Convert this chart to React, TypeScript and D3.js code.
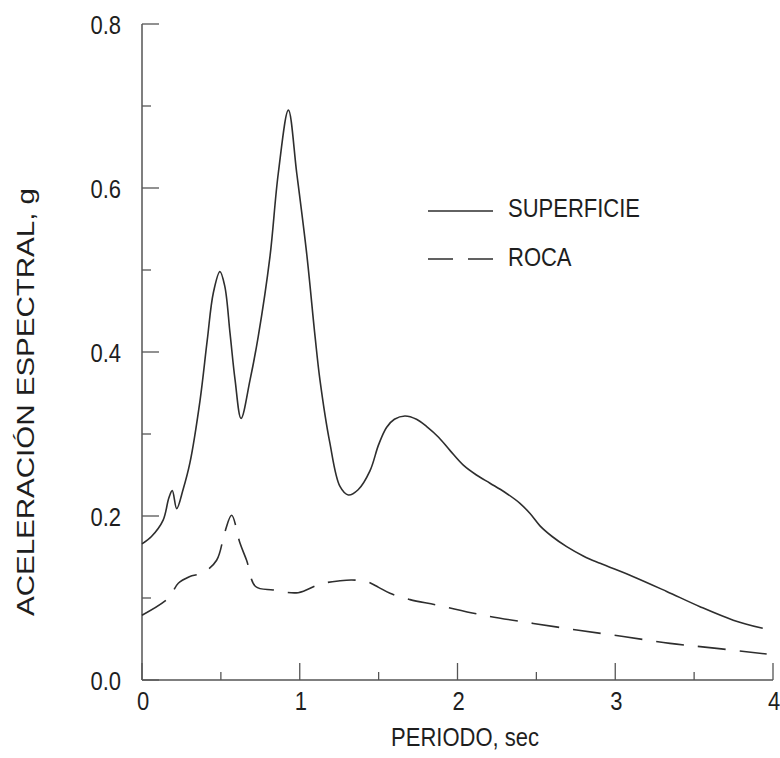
import React from "react";
import * as d3 from "d3";

const superficieT = [0, 0.06, 0.134, 0.17, 0.192, 0.22, 0.26, 0.304, 0.368, 0.414, 0.452, 0.494, 0.525, 0.558, 0.59, 0.628, 0.685, 0.737, 0.811, 0.864, 0.928, 0.981, 1.044, 1.097, 1.128, 1.19, 1.255, 1.308, 1.37, 1.445, 1.5, 1.55, 1.6, 1.667, 1.74, 1.805, 1.88, 1.952, 2.037, 2.12, 2.206, 2.3, 2.396, 2.46, 2.523, 2.6, 2.692, 2.8, 2.904, 3.115, 3.326, 3.537, 3.748, 3.935];
const superficieA = [0.166, 0.175, 0.195, 0.222, 0.231, 0.209, 0.232, 0.265, 0.341, 0.415, 0.472, 0.498, 0.48, 0.423, 0.366, 0.319, 0.366, 0.419, 0.516, 0.618, 0.695, 0.618, 0.52, 0.419, 0.366, 0.29, 0.236, 0.2256, 0.232, 0.255, 0.287, 0.308, 0.318, 0.322, 0.318, 0.309, 0.296, 0.28, 0.262, 0.25, 0.24, 0.229, 0.2155, 0.203, 0.188, 0.175, 0.1626, 0.151, 0.1423, 0.126, 0.108, 0.0894, 0.073, 0.063];

const rocaT = [0, 0.167, 0.23, 0.3, 0.389, 0.473, 0.526, 0.568, 0.621, 0.663, 0.72, 0.832, 0.99, 1.128, 1.255, 1.33, 1.424, 1.5, 1.572, 1.699, 1.868, 2.164, 2.481, 2.756, 3.051, 3.347, 3.643, 3.96];
const rocaA = [0.079, 0.0996, 0.118, 0.126, 0.131, 0.146, 0.181, 0.201, 0.167, 0.146, 0.114, 0.1098, 0.1065, 0.117, 0.121, 0.122, 0.12, 0.113, 0.1057, 0.098, 0.0915, 0.079, 0.069, 0.061, 0.053, 0.0447, 0.0386, 0.0317];

const xMajorTicks = [0, 1, 2, 3, 4];
const xMinorTicks = [0.5, 1.5, 2.5, 3.5];
const yMajorTicks = [0, 0.2, 0.4, 0.6, 0.8];
const yMinorTicks = [0.1, 0.3, 0.5, 0.7];
const yTickLabels = ["0.0", "0.2", "0.4", "0.6", "0.8"];

const legendLabels = ["SUPERFICIE", "ROCA"];

export default function App() {
  const x = d3.scaleLinear().domain([0, 4]).range([142, 773]);
  const y = d3.scaleLinear().domain([0, 0.8]).range([680, 24]);
  const line = d3
    .line<[number, number]>()
    .x((d) => x(d[0]))
    .y((d) => y(d[1]))
    .curve(d3.curveCatmullRom.alpha(0.5));
  const supData = superficieT.map((t, i) => [t, superficieA[i]] as [number, number]);
  const rocData = rocaT.map((t, i) => [t, rocaA[i]] as [number, number]);
  const stroke = "#2e2e2e";
  const font = "'Liberation Sans', Arial, sans-serif";
  const sy = 1.14;
  return (
    <svg width={780} height={758} style={{ position: "absolute", left: 0, top: 0, background: "#fff" }}>
      <g fill="#1e1e1e" fontFamily={font} fontSize={22}>
        <line x1={x(0)} x2={x(0)} y1={y(0.8)} y2={y(0)} stroke="#555" strokeWidth={1.5} />
        <line x1={x(0)} x2={x(4)} y1={y(0)} y2={y(0)} stroke="#555" strokeWidth={1.5} />
        {yMajorTicks.map((v) => (
          <line key={"ym" + v} x1={x(0)} x2={x(0) + 17} y1={y(v)} y2={y(v)} stroke="#555" strokeWidth={1.3} />
        ))}
        {yMinorTicks.map((v) => (
          <line key={"yn" + v} x1={x(0)} x2={x(0) + 9} y1={y(v)} y2={y(v)} stroke="#555" strokeWidth={1.3} />
        ))}
        {xMajorTicks.map((v) => (
          <line key={"xm" + v} x1={x(v)} x2={x(v)} y1={y(0)} y2={y(0) - 17} stroke="#555" strokeWidth={1.3} />
        ))}
        {xMinorTicks.map((v) => (
          <line key={"xn" + v} x1={x(v)} x2={x(v)} y1={y(0)} y2={y(0) - 8} stroke="#555" strokeWidth={1.3} />
        ))}
        {yMajorTicks.map((v, i) => (
          <text key={"yl" + v} transform={`translate(121,${y(v) + 10}) scale(1,${sy})`} textAnchor="end">
            {yTickLabels[i]}
          </text>
        ))}
        {xMajorTicks.map((v) => (
          <text key={"xl" + v} transform={`translate(${x(v) + 1},710) scale(1,${sy})`} textAnchor="middle">
            {String(v)}
          </text>
        ))}
        <text transform={`translate(465,746) scale(1,${sy})`} textAnchor="middle">
          PERIODO, sec
        </text>
        <text
          transform="translate(34,402) rotate(-90)"
          textAnchor="middle"
          fontSize={24}
          textLength={428}
          lengthAdjust="spacingAndGlyphs"
        >
          ACELERACIÓN ESPECTRAL, g
        </text>
        <path d={line(supData) || ""} fill="none" stroke={stroke} strokeWidth={1.6} />
        <path d={line(rocData) || ""} fill="none" stroke={stroke} strokeWidth={1.6} strokeDasharray="28 14" />
        <line x1={428} x2={493} y1={211} y2={211} stroke={stroke} strokeWidth={1.6} />
        <line x1={428} x2={493} y1={259} y2={259} stroke={stroke} strokeWidth={1.6} strokeDasharray="25 15" />
        <text transform={`translate(508,217) scale(1,${sy})`}>{legendLabels[0]}</text>
        <text transform={`translate(508,266) scale(1,${sy})`}>{legendLabels[1]}</text>
      </g>
    </svg>
  );
}
